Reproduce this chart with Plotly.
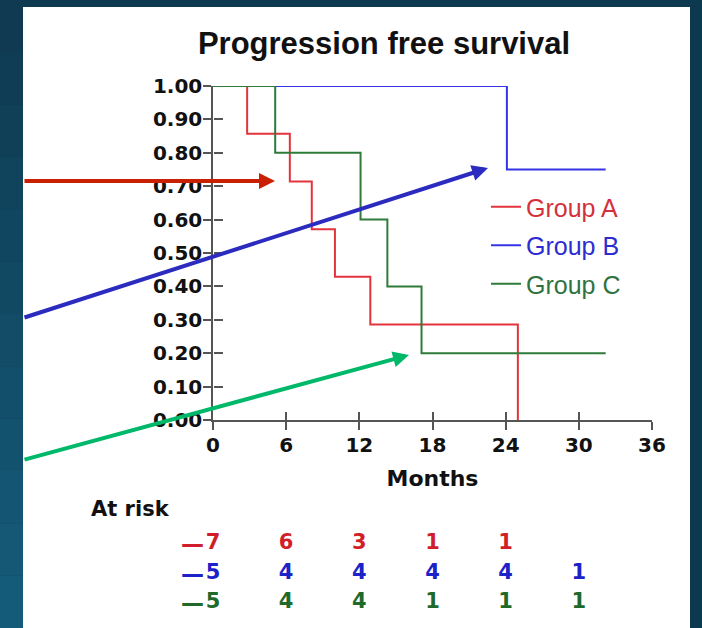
import plotly.graph_objects as go

# ---------------- data ----------------
group_names = ["Group A", "Group B", "Group C"]

a_time = [0, 2.8, 6.3, 8.1, 10.0, 12.9, 25.0]
a_surv = [1.0, 0.857, 0.714, 0.571, 0.429, 0.286, 0.0]

b_time = [0, 24.1, 32.2]
b_surv = [1.0, 0.75, 0.75]

c_time = [0, 5.1, 12.1, 14.3, 17.1, 32.2]
c_surv = [1.0, 0.80, 0.60, 0.40, 0.20, 0.20]

risk_times = [0, 6, 12, 18, 24, 30]
a_risk = [7, 6, 3, 1, 1]
b_risk = [5, 4, 4, 4, 4, 1]
c_risk = [5, 4, 4, 1, 1, 1]
risk_rows = [3, 2, 1]          # row slot of each group in the at-risk table

month_ticks = [0, 6, 12, 18, 24, 30, 36]
surv_ticks = [0.0, 0.1, 0.2, 0.3, 0.4, 0.5, 0.6, 0.7, 0.8, 0.9, 1.0]
surv_labels = ["0.00", "0.10", "0.20", "0.30", "0.40", "0.50",
               "0.60", "0.70", "0.80", "0.90", "1.00"]

# ---------------- layout helpers ----------------
W, H = 702, 628
PX0, PX1 = 213, 652      # plot area left/right in pixels
PT, PB = 86, 620         # whole plotting region top/bottom in pixels
Y_AX_BOTTOM = 420        # pixel of survival 0.00
TAB_TOP, TAB_BOT = 520, 620


def px(x):
    return (x - PX0) / (PX1 - PX0)


def py(y):
    return (PB - y) / (PB - PT)


# at-risk axis range so that the top row sits near pixel 543 and the bottom row near 602
ROW_TOP_PX, ROW_BOT_PX = 544, 603
unit = (ROW_BOT_PX - ROW_TOP_PX) / 2.0
tab_range = [1 - (TAB_BOT - ROW_BOT_PX) / unit, 3 + (ROW_TOP_PX - TAB_TOP) / unit]

line_cols = {"Group A": "#e3343c", "Group B": "#3434e6", "Group C": "#2e7b3a"}
leg_cols = {"Group A": "#d3303c", "Group B": "#2c2cd0", "Group C": "#2f7340"}
risk_cols = ["#d01f2a", "#1c22c8", "#1f6a2a"]
TICKFONT = dict(family="DejaVu Sans", size=20, color="#111111", weight="bold")

fig = go.Figure()

curves = {"Group A": (a_time, a_surv), "Group B": (b_time, b_surv),
          "Group C": (c_time, c_surv)}
for name in ["Group B", "Group A", "Group C"]:
    t, s = curves[name]
    fig.add_trace(go.Scatter(
        x=t, y=s, mode="lines", line=dict(shape="hv", width=2, color=line_cols[name]),
        name="<span style='color:%s'>%s</span>" % (leg_cols[name], name),
        legendrank=group_names.index(name) + 1, legendgroup=name,
        cliponaxis=False, hoverinfo="skip"))

# at-risk table
for risk, col, row in zip([a_risk, b_risk, c_risk], risk_cols, risk_rows):
    fig.add_trace(go.Scatter(
        x=risk_times[:len(risk)], y=[row] * len(risk), mode="text",
        xaxis="x", yaxis="y3",
        text=[str(v) for v in risk],
        textfont=dict(family="DejaVu Sans", size=21, color=col, weight="bold"),
        cliponaxis=False, showlegend=False, hoverinfo="skip"))
    fig.add_annotation(x=0, xref="x", y=row, yref="y3", text="—",
                       showarrow=False, xanchor="right", yanchor="middle", xshift=-7,
                       font=dict(family="DejaVu Sans", size=23, color=col, weight="bold"))

fig.add_annotation(x=px(89), xref="paper", y=py(509), yref="paper", text="At risk",
                   showarrow=False, xanchor="left", yanchor="middle",
                   font=dict(family="DejaVu Sans", size=21, color="#111111", weight="bold"))

# dummy trace to host the inside-tick axes
fig.add_trace(go.Scatter(x=[], y=[], xaxis="x2", yaxis="y2", showlegend=False))

# arrows (tail pixel, head pixel)
arrows = [((23, 181), (275, 181), "#c82000"),
          ((23, 318), (488, 168), "#2b2bbf"),
          ((23, 460), (409, 355), "#00b86a")]
for (tx, ty), (hx, hy), col in arrows:
    fig.add_annotation(x=px(hx), y=py(hy), ax=tx - hx, ay=ty - hy,
                       xref="paper", yref="paper", axref="pixel", ayref="pixel",
                       text="", showarrow=True, arrowhead=2, arrowsize=0.8,
                       arrowwidth=4, arrowcolor=col, standoff=0, startstandoff=0)

# background pieces: dark teal frame, a bit bluer towards the bottom-left
shapes = []
left_cols = ["#0f3a51", "#0f3d55", "#104058", "#10435c", "#114660", "#114963",
             "#124c67", "#124f6b", "#13526f", "#135573", "#145876", "#145b7a"]
n = len(left_cols)
for i, c in enumerate(left_cols):
    shapes.append(dict(type="rect", xref="paper", yref="paper", x0=px(-2), x1=px(23),
                       y0=py(H * i / n - (2 if i == 0 else 0)),
                       y1=py(H * (i + 1) / n + (2 if i == n - 1 else 0)),
                       fillcolor=c, line=dict(width=0), layer="below"))
shapes.append(dict(type="rect", xref="paper", yref="paper", x0=px(690), x1=px(W + 2),
                   y0=py(-2), y1=py(H + 2), fillcolor="#0c3850", line=dict(width=0),
                   layer="below"))
shapes.append(dict(type="rect", xref="paper", yref="paper", x0=px(23), x1=px(690),
                   y0=py(7), y1=py(H + 5), fillcolor="white", line=dict(width=0),
                   layer="below"))
fig.update_layout(shapes=shapes)

main_dom = [py(Y_AX_BOTTOM), 1.0]
tab_dom = [py(TAB_BOT), py(TAB_TOP)]

axis_common = dict(showgrid=False, zeroline=False)
fig.update_layout(
    width=W, height=H,
    margin=dict(l=PX0, r=W - PX1, t=PT, b=H - PB, autoexpand=False),
    paper_bgcolor="#0e3a51", plot_bgcolor="rgba(0,0,0,0)",
    title=dict(text="Progression free survival", x=384 / W, xref="container",
               xanchor="center", y=1 - 43 / H, yref="container", yanchor="middle",
               font=dict(family="Liberation Sans, Arial", size=31, color="#111111",
                         weight="bold")),
    xaxis=dict(range=[0, 36], tickvals=month_ticks, ticktext=[str(m) for m in month_ticks],
               anchor="y",
               ticks="outside", ticklen=8, tickwidth=1.5, tickcolor="#555555",
               showline=True, linecolor="#555555", linewidth=1.5, tickfont=TICKFONT,
               ticklabelstandoff=-2,
               title=dict(text="Months", standoff=15,
                          font=dict(family="DejaVu Sans", size=22, color="#111111",
                                    weight="bold")),
               **axis_common),
    yaxis=dict(range=[0, 1], domain=main_dom, tickvals=surv_ticks, ticktext=surv_labels,
               ticks="outside", ticklen=8, tickwidth=1.5, tickcolor="#555555",
               showline=True, linecolor="#555555", linewidth=1.5, tickfont=TICKFONT,
               ticklabelstandoff=-3,
               **axis_common),
    xaxis2=dict(range=[0, 36], overlaying="x", anchor="free", position=main_dom[0],
                side="bottom",
                tickvals=month_ticks, ticks="inside", ticklen=8, tickwidth=1.5,
                tickcolor="#555555", showticklabels=False, showline=False, **axis_common),
    yaxis2=dict(range=[0, 1], domain=main_dom, overlaying="y", anchor="free", position=0,
                side="left",
                tickvals=surv_ticks, ticks="inside", ticklen=9, tickwidth=1.5,
                tickcolor="#555555", showticklabels=False, showline=False, **axis_common),
    yaxis3=dict(range=tab_range, domain=tab_dom, anchor="x", visible=False,
                **axis_common),
    legend=dict(x=px(486), y=py(184), xanchor="left", yanchor="top",
                bgcolor="rgba(0,0,0,0)", tracegroupgap=3, itemwidth=30,
                font=dict(family="Liberation Sans, Arial", size=25, color="#333333")),
    showlegend=True,
)

fig.write_html(
    "out.html",
    config={"displayModeBar": False},
    post_script="document.body.style.margin='0';"
                "document.body.style.background='#0e3a51';"
                "document.documentElement.style.overflow='hidden';")
